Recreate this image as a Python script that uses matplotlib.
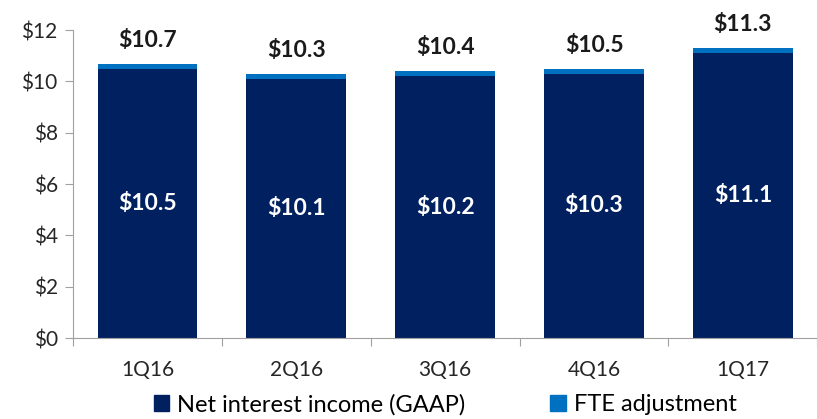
import numpy as np
import matplotlib.pyplot as plt
from matplotlib.patches import Patch

quarters = ["1Q16", "2Q16", "3Q16", "4Q16", "1Q17"]
nii_gaap = [10.5, 10.1, 10.2, 10.3, 11.1]
totals = [10.7, 10.3, 10.4, 10.5, 11.3]
fte_adj = [t - g for t, g in zip(totals, nii_gaap)]

dark = "#002060"
light = "#0070C0"

plt.rcParams['font.family'] = ['Lato', 'DejaVu Sans']

fig = plt.figure(figsize=(8.17, 4.19), dpi=100)
ax = fig.add_axes([0.0894, 0.193, 0.911, 0.735])

x = np.arange(len(quarters))
ax.bar(x, nii_gaap, width=0.67, color=dark, label="Net interest income (GAAP)")
ax.bar(x, fte_adj, width=0.67, bottom=nii_gaap, color=light, label="FTE adjustment")

for i in range(len(quarters)):
    ax.text(x[i], nii_gaap[i] / 2, "$%.1f" % nii_gaap[i], color="white",
            ha="center", va="center", fontsize=16.5, fontweight="bold")
    ax.text(x[i], totals[i] + 0.5, "$%.1f" % totals[i], color="#1a1a1a",
            ha="center", va="bottom", fontsize=16.5, fontweight="bold")

ax.set_xlim(-0.5, len(quarters) - 0.5)
ax.set_ylim(0, 12)
ax.set_yticks(range(0, 13, 2))
ax.set_yticklabels(["$%d" % v for v in range(0, 13, 2)], fontsize=15, color="#262626")
ax.set_xticks(np.arange(-0.5, len(quarters), 1.0))
ax.set_xticklabels([])
ax.set_xticks(x, minor=True)
ax.set_xticklabels(quarters, minor=True, fontsize=15, color="#262626")
ax.tick_params(axis="x", which="minor", length=0, pad=16)
ax.tick_params(axis="x", which="major", length=6, color="#a0a0a0")
ax.tick_params(axis="y", length=6, color="#a0a0a0", pad=5)

for s in ["top", "right"]:
    ax.spines[s].set_visible(False)
ax.spines["left"].set_color("#a0a0a0")
ax.spines["bottom"].set_color("#a0a0a0")

handles = [Patch(color=dark), Patch(color=light)]
fig.legend(handles, ["Net interest income (GAAP)", "FTE adjustment"],
           loc="center", bbox_to_anchor=(0.545, 0.035), ncol=2, frameon=False,
           fontsize=17, handlelength=0.65, handleheight=0.65, columnspacing=3.6,
           handletextpad=0.35)

fig.savefig("out.png", dpi=100)
